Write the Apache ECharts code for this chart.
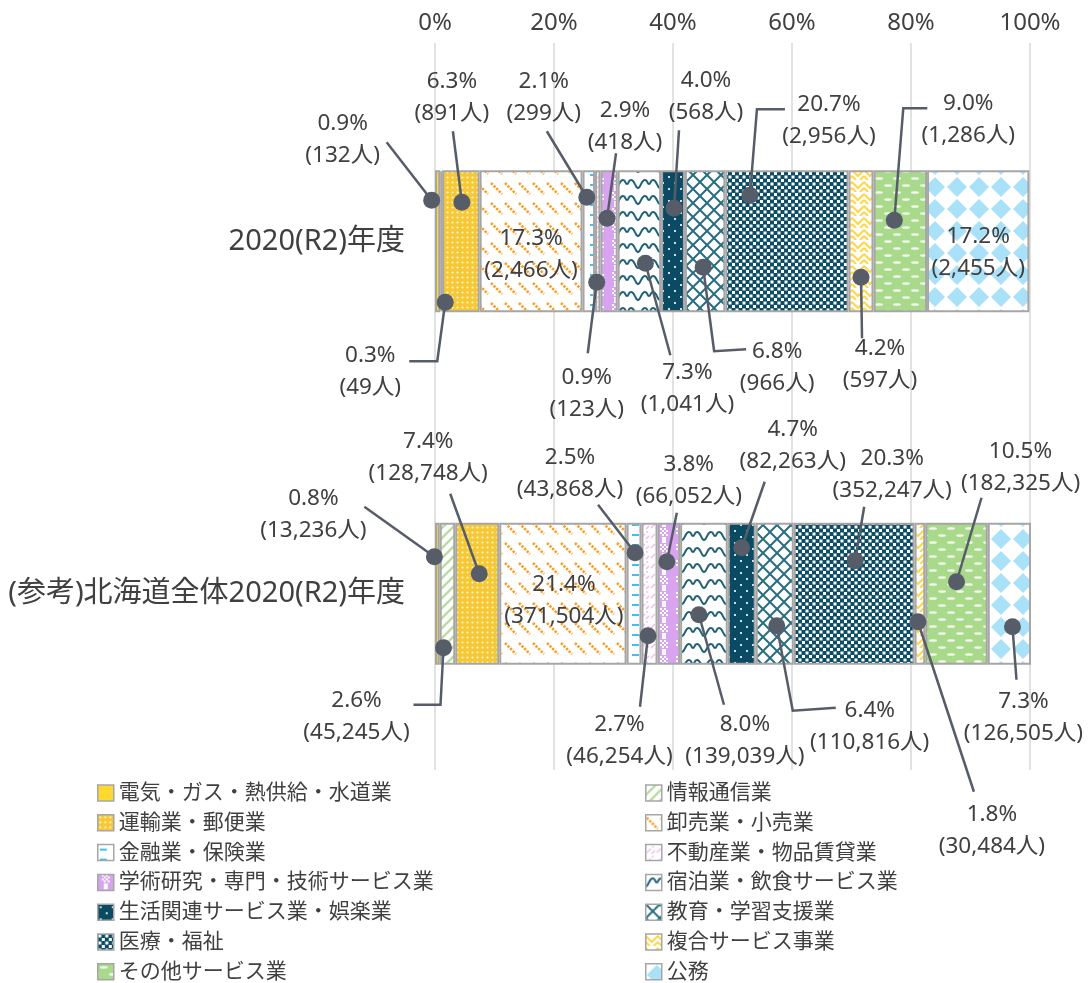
<!DOCTYPE html>
<html>
<head>
<meta charset="utf-8">
<script src="https://cdn.jsdelivr.net/npm/echarts/dist/echarts.min.js"></script>
<style>html,body{margin:0;padding:0;background:#fff}#chart{width:1089px;height:983px}</style>
</head>
<body>
<div id="chart"></div>
<script>
// ---------------- data ----------------
const categories = ['2020(R2)年度', '(参考)北海道全体2020(R2)年度'];
const industries = [
  '電気・ガス・熱供給・水道業', '情報通信業', '運輸業・郵便業', '卸売業・小売業',
  '金融業・保険業', '不動産業・物品賃貸業', '学術研究・専門・技術サービス業', '宿泊業・飲食サービス業',
  '生活関連サービス業・娯楽業', '教育・学習支援業', '医療・福祉', '複合サービス事業',
  'その他サービス業', '公務'
];
const pct2020 = [0.9, 0.3, 6.3, 17.3, 2.1, 0.9, 2.9, 7.3, 4.0, 6.8, 20.7, 4.2, 9.0, 17.2];
const pctHokkaido = [0.8, 2.6, 7.4, 21.4, 2.5, 2.7, 3.8, 8.0, 4.7, 6.4, 20.3, 1.8, 10.5, 7.3];
const count2020 = [132, 49, 891, 2466, 299, 123, 418, 1041, 568, 966, 2956, 597, 1286, 2455];
const countHokkaido = [13236, 45245, 128748, 371504, 43868, 46254, 66052, 139039, 82263, 110816, 352247, 30484, 182325, 126505];
const xTickLabels = ['0%', '20%', '40%', '60%', '80%', '100%'];

// ---------------- label layout (pixel offsets from segment centre / bar centre) ----------------
const layout2020 = [
  {dot:[-6,-41], path:[[-51,-99]], text:[-95,-102]},
  {dot:[4,61], path:[[-4,120],[-32,120]], text:[-71,130]},
  {dot:[1,-39], path:[[-8,-110]], text:[-9,-144]},
  {inside:true, text:[0,13]},
  {dot:[-2,-44], path:[[-42,-110]], text:[-45,-144]},
  {dot:[-1,41], path:[[-10,112]], text:[-11,152]},
  {dot:[-2,-23], path:[[7,-88]], text:[16,-115]},
  {dot:[6,22], path:[[31,114]], text:[48,147]},
  {dot:[1,-33], path:[[6,-111]], text:[33,-145]},
  {dot:[-2,26], path:[[9,110],[41,108]], text:[72,126]},
  {dot:[-37,-46], path:[[-30,-132],[-2,-132]], text:[42,-121]},
  {dot:[0,36], path:[[1,97]], text:[19,123]},
  {dot:[-6,-21], path:[[3,-133],[27,-133]], text:[68,-122]},
  {inside:true, text:[0,11]}
];
const layoutHokkaido = [
  {dot:[-3,-37], path:[[-73,-87]], text:[-124,-79]},
  {dot:[-4,54], path:[[-7,111],[-34,111]], text:[-91,123]},
  {dot:[2,-20], path:[[-27,-100]], text:[-49,-136]},
  {inside:true, text:[1,7]},
  {dot:[1,-41], path:[[-36,-89]], text:[-64,-120]},
  {dot:[-1.5,42], path:[[-9.5,113]], text:[-30,147]},
  {dot:[-2,-32], path:[[8,-81]], text:[20,-113]},
  {dot:[-5,21], path:[[20,111]], text:[41,147]},
  {dot:[0,-46], path:[[23,-112]], text:[51,-148]},
  {dot:[2,32], path:[[18,117],[61,114]], text:[95,133]},
  {dot:[1,-33], path:[[10,-87]], text:[38,-119]},
  {dot:[-2,28], path:[[54,198]], text:[72,237]},
  {dot:[0,-12], path:[[25,-96]], text:[64,-126]},
  {dot:[3,33], path:[[7,86]], text:[14,124]}
];

const FONT = '"Noto Sans", "Noto Sans CJK JP", sans-serif';
const TEXT = '#404040';
const LINE = '#565C68';

// ---------------- patterns ----------------
function pat(w, h, fn) {
  const c = document.createElement('canvas');
  c.width = w; c.height = h;
  const g = c.getContext('2d');
  fn(g, w, h);
  return {image: c, repeat: 'repeat'};
}
function bg(g, w, h, col) { g.fillStyle = col; g.fillRect(0, 0, w, h); }
function ln(g, pts) { g.beginPath(); g.moveTo(pts[0][0], pts[0][1]); for (let k = 1; k < pts.length; k++) g.lineTo(pts[k][0], pts[k][1]); g.stroke(); }

const patterns = [
  '#FFD92F',
  pat(10, 10, (g, w, h) => { bg(g, w, h, '#fff'); g.strokeStyle = '#B9DDA0'; g.lineWidth = 2.4;
    ln(g, [[-1, 11], [11, -1]]); ln(g, [[-1, 1], [1, -1]]); ln(g, [[9, 11], [11, 9]]); }),
  pat(5, 5, (g, w, h) => { bg(g, w, h, '#F6C834'); g.fillStyle = '#FFF6D8'; g.beginPath(); g.arc(2.5, 2.5, 1.1, 0, Math.PI * 2); g.fill(); }),
  pat(14, 20, (g, w, h) => { bg(g, w, h, '#fff'); g.strokeStyle = '#F99F26'; g.lineWidth = 2.6; g.setLineDash([2.4, 1.3]);
    ln(g, [[1, 3], [12, 14]]); }),
  pat(14, 10, (g, w, h) => { bg(g, w, h, '#fff'); g.fillStyle = '#3FC1F0'; g.fillRect(2, 4, 7, 2); }),
  pat(10, 10, (g, w, h) => { bg(g, w, h, '#fff'); g.strokeStyle = '#F3BDEF'; g.lineWidth = 1.6;
    ln(g, [[1, 8], [5, 4]]); ln(g, [[6, 9], [9, 6]]); g.fillStyle = '#F6D0F3'; g.fillRect(6, 1, 2, 2); }),
  pat(16, 16, (g, w, h) => { bg(g, w, h, '#D8A4EF'); g.fillStyle = '#fff';
    for (let y = 0; y < 8; y += 2) for (let x = 4; x < 12; x += 2) if (((x + y) / 2) % 2 === 0) g.fillRect(x, y, 2, 2);
    g.fillRect(6, 9, 4, 6); }),
  pat(22, 16, (g, w, h) => { bg(g, w, h, '#fff'); g.strokeStyle = '#1F6275'; g.lineWidth = 2;
    g.beginPath(); g.moveTo(0, 12); g.bezierCurveTo(3, 12, 3, 4, 7, 4); g.bezierCurveTo(10, 4, 9, 8, 11, 8);
    g.bezierCurveTo(13, 8, 12, 4, 15, 4); g.bezierCurveTo(19, 4, 19, 12, 22, 12); g.stroke(); }),
  pat(12, 12, (g, w, h) => { bg(g, w, h, '#0A4A62'); g.fillStyle = '#CFE0E6'; g.fillRect(2, 2, 2, 2); g.fillRect(8, 8, 2, 2); }),
  pat(14, 14, (g, w, h) => { bg(g, w, h, '#fff'); g.strokeStyle = '#2A6E80'; g.lineWidth = 2;
    ln(g, [[0, 0], [14, 14]]); ln(g, [[14, 0], [0, 14]]); }),
  pat(7, 7, (g, w, h) => { bg(g, w, h, '#0B4D64'); g.fillStyle = '#fff'; g.fillRect(0.5, 0.5, 3, 3); g.fillRect(4, 4, 3, 3); }),
  pat(12, 12, (g, w, h) => { bg(g, w, h, '#fff'); g.strokeStyle = '#FFD64A'; g.lineWidth = 2;
    ln(g, [[0, 2], [6, 8], [12, 2]]); ln(g, [[0, 8], [4, 12]]); ln(g, [[8, 12], [12, 8]]); }),
  pat(18, 14, (g, w, h) => { bg(g, w, h, '#A9D98B'); g.fillStyle = '#F4FBEF';
    g.beginPath(); g.ellipse(6, 3.5, 4, 1.3, 0, 0, Math.PI * 2); g.fill();
    g.beginPath(); g.ellipse(15, 10.5, 4, 1.3, 0, 0, Math.PI * 2); g.fill();
    g.beginPath(); g.ellipse(-3, 10.5, 4, 1.3, 0, 0, Math.PI * 2); g.fill(); }),
  pat(22, 22, (g, w, h) => { bg(g, w, h, '#fff'); g.fillStyle = '#A9E1F9';
    g.beginPath(); g.moveTo(11, 1); g.lineTo(21, 11); g.lineTo(11, 21); g.lineTo(1, 11); g.closePath(); g.fill(); })
];

// ---------------- build ----------------
const pcts = [pct2020, pctHokkaido];
const counts = [count2020, countHokkaido];
const layouts = [layout2020, layoutHokkaido];
function fmt(n) { return String(n).replace(/\B(?=(\d{3})+(?!\d))/g, ','); }

const barSeries = industries.map((name, i) => ({
  name, type: 'bar', stack: 'total', barWidth: 142,
  itemStyle: {color: patterns[i], borderColor: '#A6A6A6', borderWidth: 2},
  emphasis: {disabled: true},
  data: [pct2020[i], pctHokkaido[i]]
}));

const labelData = [];
pcts.forEach((arr, c) => {
  let cum = 0;
  arr.forEach((v, i) => { labelData.push([cum, cum + v, c, i]); cum += v; });
});

function renderLabel(params, api) {
  const start = api.value(0), end = api.value(1), c = api.value(2), i = api.value(3);
  const p0 = api.coord([start, c]), p1 = api.coord([end, c]);
  const ox = (p0[0] + p1[0]) / 2, oy = p0[1];
  const lay = layouts[c][i];
  const text = pcts[c][i].toFixed(1) + '%\n(' + fmt(counts[c][i]) + '人)';
  const children = [];
  if (!lay.inside) {
    const pts = [[ox + lay.dot[0], oy + lay.dot[1]]].concat(lay.path.map(p => [ox + p[0], oy + p[1]]));
    children.push({type: 'polyline', shape: {points: pts}, style: {stroke: LINE, lineWidth: 2.5, fill: 'none'}});
    children.push({type: 'circle', shape: {cx: pts[0][0], cy: pts[0][1], r: 8.5}, style: {fill: LINE}});
  }
  children.push({type: 'text', style: {
    x: ox + lay.text[0], y: oy + lay.text[1], text,
    fill: TEXT, fontSize: 22.5, fontFamily: FONT, lineHeight: 32,
    align: 'center', verticalAlign: 'middle', textAlign: 'center', textVerticalAlign: 'middle'
  }});
  return {type: 'group', children};
}

const leftNames = industries.filter((_, i) => i % 2 === 0);
const rightNames = industries.filter((_, i) => i % 2 === 1);
const legendBase = {
  orient: 'vertical', top: 782.5, height: 200.5, padding: 0,
  itemWidth: 16, itemHeight: 16, itemGap: 8.8, icon: 'rect',
  itemStyle: {borderColor: '#A6A6A6', borderWidth: 1.5},
  textStyle: {fontSize: 21, lineHeight: 21, color: TEXT, fontFamily: FONT},
  selectedMode: false
};

const chart = echarts.init(document.getElementById('chart'), null, {renderer: 'canvas'});
chart.setOption({
  animation: false,
  grid: {left: 435, right: 59, top: 65, bottom: 213},
  xAxis: {
    type: 'value', position: 'top', min: 0, max: 100, interval: 20,
    axisLine: {show: false},
    axisTick: {show: true, length: 22, lineStyle: {color: '#D9D9D9', width: 1.5}},
    axisLabel: {formatter: v => xTickLabels[Math.round(v / 20)], fontSize: 24, color: TEXT, fontFamily: FONT, margin: 30},
    splitLine: {show: true, lineStyle: {color: '#D9D9D9', width: 1.5}}
  },
  yAxis: {
    type: 'category', data: categories, inverse: true,
    axisLine: {show: false}, axisTick: {show: false},
    axisLabel: {fontSize: 29, color: TEXT, fontFamily: FONT, margin: 30}
  },
  legend: [
    Object.assign({}, legendBase, {left: 97, data: leftNames}),
    Object.assign({}, legendBase, {left: 645, data: rightNames})
  ],
  series: barSeries.concat([{
    type: 'custom', renderItem: renderLabel, data: labelData, z: 10, silent: true, clip: false,
    encode: {x: [0, 1], y: 2}
  }])
});
</script>
</body>
</html>
